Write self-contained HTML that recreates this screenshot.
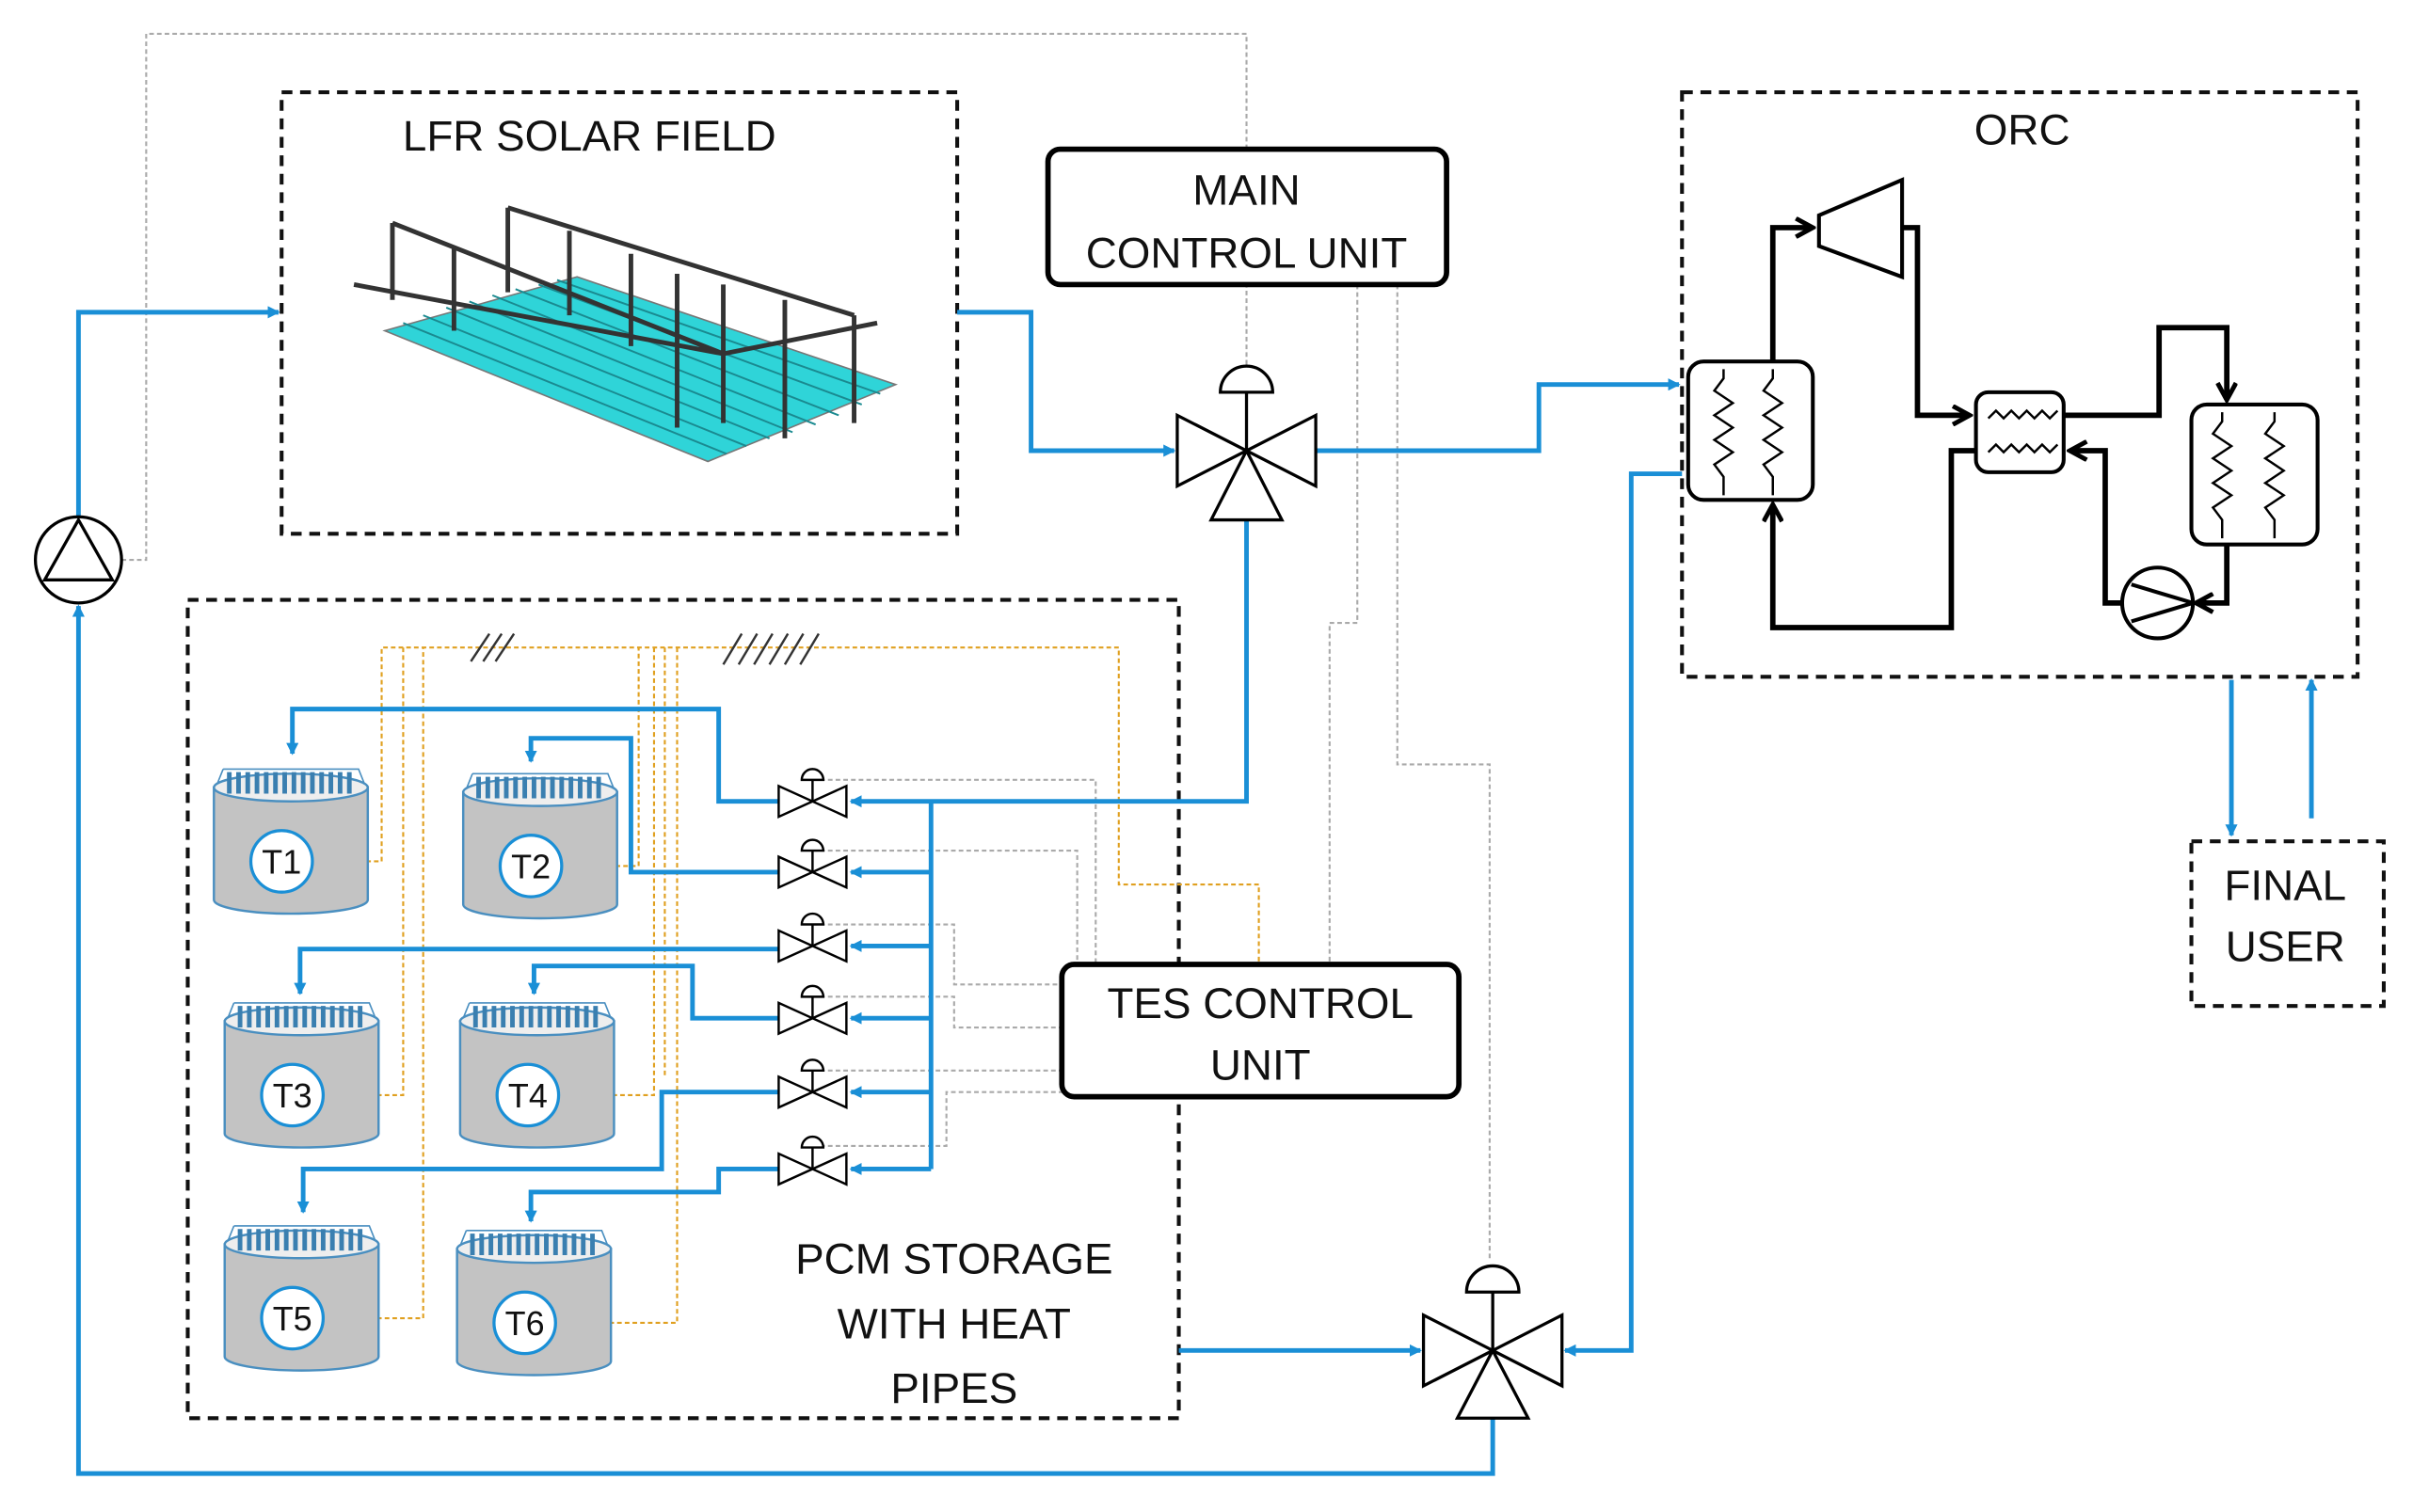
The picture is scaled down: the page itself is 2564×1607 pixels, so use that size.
<!DOCTYPE html>
<html><head><meta charset="utf-8"><style>
html,body{margin:0;padding:0;background:#fff;}
svg{display:block;}
text{font-family:"Liberation Sans",sans-serif;fill:#111;}
</style></head><body>
<svg width="2564" height="1607" viewBox="0 0 1568 983" preserveAspectRatio="none" xmlns="http://www.w3.org/2000/svg">
<defs>
<marker id="ab" markerWidth="8" markerHeight="8" refX="7" refY="4" orient="auto" markerUnits="userSpaceOnUse"><path d="M0,0 L8,4 L0,8 z" fill="#1a8fd6"/></marker>
<marker id="ak" markerWidth="14" markerHeight="14" refX="12" refY="7" orient="auto" markerUnits="userSpaceOnUse"><path d="M1,1 L12,7 L1,13" fill="none" stroke="#000" stroke-width="3"/></marker>
<g id="tank">
<path d="M-50,-48 L-50,25 A50,9 0 0 0 50,25 L50,-48 Z" fill="#c3c3c3" stroke="#4a8fc0" stroke-width="1.5"/>
<ellipse cx="0" cy="-48" rx="50" ry="9" fill="#eee" stroke="#4a8fc0" stroke-width="1.5"/>
<path d="M-40,-44 v-14 M-34,-44 v-14 M-28,-44 v-14 M-22,-44 v-14 M-16,-44 v-14 M-10,-44 v-14 M-4,-44 v-14 M2,-44 v-14 M8,-44 v-14 M14,-44 v-14 M20,-44 v-14 M26,-44 v-14 M32,-44 v-14 M38,-44 v-14" stroke="#3a7fb0" stroke-width="3"/>
<path d="M-44,-60 L44,-60 L48,-50 M-44,-60 L-48,-50" fill="none" stroke="#4a8fc0" stroke-width="1"/>
<circle cx="-6" cy="0" r="20" fill="#fff" stroke="#1a8fd6" stroke-width="2"/>
</g>
<g id="sv">
<path d="M-22,-10 L-22,10 L22,-10 L22,10 Z" fill="#fff" stroke="#000" stroke-width="1.5"/>
<line x1="0" y1="0" x2="0" y2="-14" stroke="#000" stroke-width="1.5"/>
<path d="M-7,-14 A7,7 0 0 1 7,-14 Z" fill="#fff" stroke="#000" stroke-width="1.5"/>
</g>
</defs>
<g fill="none" stroke="#111" stroke-width="2.5" stroke-dasharray="7,5">
<rect x="183" y="60" width="439" height="287"/>
<rect x="1093" y="60" width="439" height="380"/>
<rect x="122" y="390" width="644" height="532"/>
<rect x="1424" y="547" width="125" height="107"/>
</g>
<text x="383" y="98" font-size="28" text-anchor="middle">LFR SOLAR FIELD</text>
<text x="1314" y="94" font-size="28" text-anchor="middle">ORC</text>
<text x="620" y="828" font-size="28" text-anchor="middle">PCM STORAGE</text>
<text x="620" y="870" font-size="28" text-anchor="middle">WITH HEAT</text>
<text x="620" y="912" font-size="28" text-anchor="middle">PIPES</text>
<text x="1485" y="585" font-size="28" text-anchor="middle">FINAL</text>
<text x="1485" y="625" font-size="28" text-anchor="middle">USER</text>
<!-- solar field -->
<g>
<path d="M250,215 L460,300 L582,250 L375,180 Z" fill="#2fd4d8" stroke="#777" stroke-width="1"/>
<g stroke="#1a8a90" stroke-width="1.2"><path d="M262,210 L472,295 M275,205 L485,290 M290,200 L500,285 M305,196 L515,281 M320,192 L530,276 M335,188 L545,270 M350,185 L560,263 M362,182 L572,256"/></g>
<g stroke="#333" stroke-width="3" fill="none"><path d="M255,145 L470,230 M330,135 L555,205 M255,145 v50 M295,160 v55 M330,135 v55 M370,150 v55 M410,165 v60 M440,178 v100 M470,185 v90 M510,195 v90 M555,205 v70 M230,185 L470,230 L570,210"/></g>
</g>
<!-- gray dotted control lines -->
<g fill="none" stroke="#aaa" stroke-width="1.3" stroke-dasharray="3,2">
<path d="M79,364 L95,364 L95,22 L810,22 L810,237"/>
<path d="M882,185 L882,405 L864,405 L864,627"/>
<path d="M908,185 L908,497 L968,497 L968,820"/>
<path d="M528,507 L712,507 L712,627"/>
<path d="M528,553 L700,553 L700,627"/>
<path d="M528,601 L620,601 L620,640 L690,640"/>
<path d="M528,648 L620,648 L620,668 L690,668"/>
<path d="M528,696 L690,696"/>
<path d="M528,745 L615,745 L615,710 L690,710"/>
</g>
<!-- orange dotted -->
<g fill="none" stroke="#e0a020" stroke-width="1.3" stroke-dasharray="3,2">
<path d="M203,560 L248,560 L248,421 L727,421 L727,575 L818,575 L818,627"/>
<path d="M365,563 L415,563 L415,421"/>
<path d="M210,712 L262,712 L262,421"/>
<path d="M363,712 L425,712 L425,421"/>
<path d="M210,857 L275,857 L275,421"/>
<path d="M361,860 L440,860 L440,421"/>
<path d="M432,421 L432,700"/>
</g>
<g stroke="#333" stroke-width="1.5"><path d="M306,430 L318,412 M314,430 L326,412 M322,430 L334,412 M470,432 L482,412 M480,432 L492,412 M490,432 L502,412 M500,432 L512,412 M510,432 L522,412 M520,432 L532,412"/></g>
<!-- tanks -->
<g font-size="22" text-anchor="middle">
<use href="#tank" x="189" y="560"/><text x="183" y="568">T1</text>
<use href="#tank" x="351" y="563"/><text x="345" y="571">T2</text>
<use href="#tank" x="196" y="712"/><text x="190" y="720">T3</text>
<use href="#tank" x="349" y="712"/><text x="343" y="720">T4</text>
<use href="#tank" x="196" y="857"/><text x="190" y="865">T5</text>
<use href="#tank" x="347" y="860"/><text x="341" y="868">T6</text>
</g>
<!-- blue lines -->
<g fill="none" stroke="#1a8fd6" stroke-width="3">
<path d="M51,336 L51,203 L181,203" marker-end="url(#ab)"/>
<path d="M970,922 L970,958 L51,958 L51,394" marker-end="url(#ab)"/>
<path d="M622,203 L670,203 L670,293 L763,293" marker-end="url(#ab)"/>
<path d="M855,293 L1000,293 L1000,250 L1091,250" marker-end="url(#ab)"/>
<path d="M810,338 L810,521 L553,521" marker-end="url(#ab)"/>
<path d="M766,878 L923,878" marker-end="url(#ab)"/>
<path d="M1093,308 L1060,308 L1060,878 L1017,878" marker-end="url(#ab)"/>
<path d="M1450,442 L1450,543" marker-end="url(#ab)"/>
<path d="M1502,532 L1502,442" marker-end="url(#ab)"/>
<path d="M605,521 L605,760"/>
<path d="M605,567 L553,567" marker-end="url(#ab)"/>
<path d="M605,615 L553,615" marker-end="url(#ab)"/>
<path d="M605,662 L553,662" marker-end="url(#ab)"/>
<path d="M605,710 L553,710" marker-end="url(#ab)"/>
<path d="M605,760 L553,760" marker-end="url(#ab)"/>
<path d="M506,521 L467,521 L467,461 L190,461 L190,490" marker-end="url(#ab)"/>
<path d="M506,567 L410,567 L410,480 L345,480 L345,495" marker-end="url(#ab)"/>
<path d="M506,617 L195,617 L195,646" marker-end="url(#ab)"/>
<path d="M506,662 L450,662 L450,628 L347,628 L347,646" marker-end="url(#ab)"/>
<path d="M506,710 L430,710 L430,760 L197,760 L197,788" marker-end="url(#ab)"/>
<path d="M506,760 L467,760 L467,775 L345,775 L345,794" marker-end="url(#ab)"/>
</g>
<!-- small valves -->
<use href="#sv" x="528" y="521"/><use href="#sv" x="528" y="567"/><use href="#sv" x="528" y="615"/>
<use href="#sv" x="528" y="662"/><use href="#sv" x="528" y="710"/><use href="#sv" x="528" y="760"/>
<!-- main valve -->
<g fill="#fff" stroke="#000" stroke-width="2">
<path d="M765,270 L810,293 L765,316 Z M855,270 L810,293 L855,316 Z M810,293 L787,338 L833,338 Z"/>
<line x1="810" y1="293" x2="810" y2="255"/>
<path d="M793,255 A17,17 0 0 1 827,255 Z"/>
<path d="M925,855 L970,878 L925,901 Z M1015,855 L970,878 L1015,901 Z M970,878 L947,922 L993,922 Z"/>
<line x1="970" y1="878" x2="970" y2="840"/>
<path d="M953,840 A17,17 0 0 1 987,840 Z"/>
<circle cx="51" cy="364" r="28"/>
<path d="M51,338 L29,377 L73,377 Z" fill="none"/>
</g>
<!-- control units -->
<rect x="681" y="97" width="259" height="88" rx="8" fill="#fff" stroke="#000" stroke-width="3.5"/>
<text x="810" y="133" font-size="28" text-anchor="middle">MAIN</text>
<text x="810" y="174" font-size="28" text-anchor="middle">CONTROL UNIT</text>
<rect x="690" y="627" width="258" height="86" rx="8" fill="#fff" stroke="#000" stroke-width="3.5"/>
<text x="819" y="662" font-size="28" text-anchor="middle">TES CONTROL</text>
<text x="819" y="702" font-size="28" text-anchor="middle">UNIT</text>
<!-- ORC internals -->
<g fill="none" stroke="#000" stroke-width="3.5">
<path d="M1152,235 L1152,148 L1178,148" marker-end="url(#ak)"/>
<path d="M1236,148 L1246,148 L1246,270 L1280,270" marker-end="url(#ak)"/>
<path d="M1341,270 L1403,270 L1403,213 L1447,213 L1447,260" marker-end="url(#ak)"/>
<path d="M1447,354 L1447,392 L1427,392" marker-end="url(#ak)"/>
<path d="M1380,392 L1368,392 L1368,293 L1345,293" marker-end="url(#ak)"/>
<path d="M1284,293 L1268,293 L1268,408 L1152,408 L1152,328" marker-end="url(#ak)"/>
</g>
<g fill="#fff" stroke="#000" stroke-width="2.5">
<rect x="1097" y="235" width="81" height="90" rx="10"/>
<path d="M1182,140 L1236,117 L1236,180 L1182,160 Z"/>
<rect x="1284" y="255" width="57" height="52" rx="8"/>
<rect x="1424" y="263" width="82" height="91" rx="10"/>
<circle cx="1402" cy="392" r="23"/>
<path d="M1385,380 L1425,392 L1385,404" fill="none"/>
</g>
<g fill="none" stroke="#000" stroke-width="1.5">
<path d="M1120,240 v6 l-6,8 l12,8 l-12,8 l12,8 l-12,8 l12,8 l-12,8 l6,8 v12"/>
<path d="M1152,240 v6 l-6,8 l12,8 l-12,8 l12,8 l-12,8 l12,8 l-12,8 l6,8 v12"/>
<path d="M1444,268 v6 l-6,8 l12,8 l-12,8 l12,8 l-12,8 l12,8 l-12,8 l6,8 v12"/>
<path d="M1478,268 v6 l-6,8 l12,8 l-12,8 l12,8 l-12,8 l12,8 l-12,8 l6,8 v12"/>
<path d="M1292,272 l5,-5 l5,5 l5,-5 l5,5 l5,-5 l5,5 l5,-5 l5,5 l5,-5"/>
<path d="M1292,294 l5,-5 l5,5 l5,-5 l5,5 l5,-5 l5,5 l5,-5 l5,5 l5,-5"/>
</g>
</svg>
</body></html>
